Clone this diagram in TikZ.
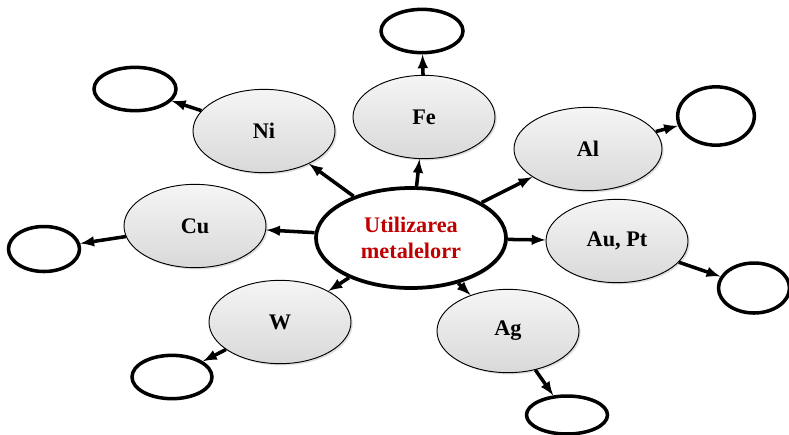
\documentclass[tikz,border=0pt]{standalone}
\usepackage{fontspec}
\setmainfont{Liberation Serif}
\usepackage{tikz}
\usetikzlibrary{arrows,shapes.geometric,shadows}
\definecolor{titlered}{RGB}{192,0,0}

\begin{document}
\begin{tikzpicture}[x=0.03cm,y=-0.03cm,->,>=latex,line width=3pt,
		font=\fontsize{19}{22}\selectfont\bfseries]
		\tikzstyle{centre}=[ellipse,draw=black,line width=3.2pt,fill=white,
			minimum width=5.7cm,minimum height=3cm,align=center,text=titlered,
			drop shadow={opacity=0.25,shadow xshift=1.5pt,shadow yshift=-1.5pt}]
		\tikzstyle{metal}=[ellipse,draw=black,line width=0.8pt,
			top color=gray!8,bottom color=gray!30,
			minimum width=4.26cm,minimum height=2.5cm,
			drop shadow={opacity=0.25,shadow xshift=1.5pt,shadow yshift=-1.5pt}]
		\tikzstyle{blank}=[ellipse,draw=black,line width=3pt,fill=white,
			minimum width=2.46cm,minimum height=1.3cm,inner sep=0pt]
		
		\useasboundingbox (0,0) rectangle (789,434);
		
		\node[centre] (c)  at (411,238) {Utilizarea\\metalelorr};
		
		\node[metal]  (fe) at (424,117) {Fe};
		\node[metal]  (ni) at (264,131) {Ni};
		\node[metal,minimum width=4.44cm] (al) at (588,149) {Al};
		\node[metal]  (cu) at (195,226) {Cu};
		\node[metal]  (au) at (617,241) {Au, Pt};
		\node[metal]  (w)  at (280,322) {W};
		\node[metal]  (ag) at (508,331) {Ag};
		
		\node[blank]  (fe1) at (422,31)  {};
		\node[blank]  (ni1) at (135,89)  {};
		\node[blank,minimum width=2.3cm,minimum height=1.75cm]  (al1) at (716,116) {};
		\node[blank,minimum width=2.13cm,minimum height=1.35cm] (cu1) at (44,249)  {};
		\node[blank,minimum width=2.13cm,minimum height=1.5cm]  (au1) at (754,288) {};
		\node[blank,minimum width=2.4cm]  (w1)  at (172,377) {};
		\node[blank,minimum width=2.43cm,minimum height=1.14cm] (ag1) at (567,415) {};
		
		\path[->]
		(c) edge (fe)
		(c) edge (ni)
		(c) edge (al)
		(c) edge (cu)
		(c) edge (au)
		(c) edge (w)
		(c) edge (ag);
		\path[->]
		(fe) edge (fe1)
		(ni) edge (ni1)
		(al) edge (al1)
		(cu) edge (cu1)
		(au) edge (au1)
		(w)  edge (w1)
		(ag) edge (ag1);
		\end{tikzpicture}
\end{document}
